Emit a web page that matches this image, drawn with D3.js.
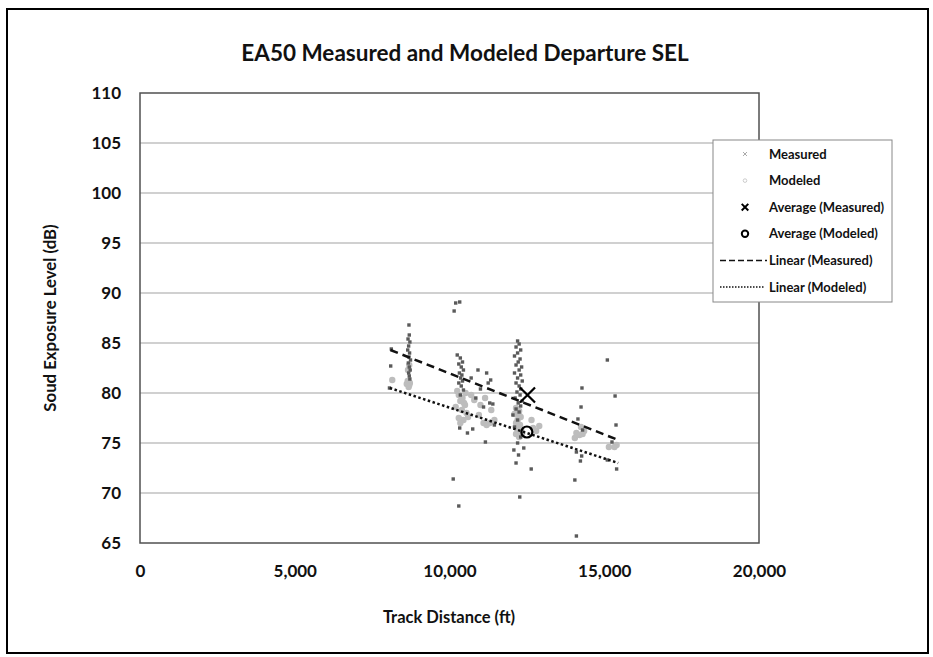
<!DOCTYPE html>
<html>
<head>
<meta charset="utf-8">
<script src="https://cdn.jsdelivr.net/npm/d3@7"></script>
<style>
  body { margin: 0; background: #fff; }
  text { font-family: Lato, "Open Sans", sans-serif; font-weight: bold; fill: #111; }
</style>
</head>
<body>
<script>
// EA50 departure SEL, measured vs modeled

var xTicks = [0, 5000, 10000, 15000, 20000];
var yTicks = [65, 70, 75, 80, 85, 90, 95, 100, 105, 110];

// [track distance ft, SEL dB]
var measured = [
  [8120, 84.4], [8100, 82.7], [8060, 80.5],
  [8690, 86.8], [8700, 85.8], [8660, 85.4], [8720, 85.1], [8680, 84.7], [8650, 84.3],
  [8710, 84.0], [8690, 83.6], [8740, 83.3], [8670, 83.0], [8700, 82.6], [8730, 82.3],
  [8680, 82.0], [8700, 81.7], [8720, 81.4],
  [10200, 89.0], [10330, 89.1], [10150, 88.2],
  [10250, 83.8], [10350, 83.5], [10420, 83.1], [10300, 82.9], [10380, 82.6], [10450, 82.3],
  [10320, 82.0], [10400, 81.8], [10360, 81.5], [10420, 81.2], [10300, 81.0], [10380, 80.7],
  [10450, 80.3], [10350, 79.8],
  [10330, 76.5], [10580, 76.0], [10120, 71.4], [10300, 68.7],
  [10700, 81.5], [10920, 82.3], [11200, 82.0], [11330, 81.3], [11250, 81.0], [11000, 80.4],
  [11300, 79.0], [11100, 78.6], [11400, 78.9], [10750, 76.4], [11160, 75.1], [11450, 76.8],
  [10850, 79.5],
  [12200, 85.2], [12250, 84.9], [12150, 84.6], [12300, 84.3], [12200, 84.0], [12100, 83.7],
  [12280, 83.4], [12220, 83.1], [12150, 82.8], [12330, 82.6], [12250, 82.3], [12100, 82.0],
  [12300, 81.8], [12200, 81.5], [12350, 81.2], [12150, 81.0], [12250, 80.7], [12300, 80.4],
  [12180, 80.1], [12280, 79.8], [12120, 79.5], [12350, 79.2], [12220, 79.0], [12300, 78.7],
  [12150, 78.4], [12250, 78.1], [12200, 77.3], [12100, 76.6], [12300, 75.6], [12200, 75.0],
  [12080, 74.3], [12230, 73.8], [12150, 73.0], [12640, 72.4], [12270, 69.6], [12400, 74.5],
  [12050, 77.8],
  [14280, 80.5], [14250, 78.6], [14150, 77.4], [14100, 74.1], [14270, 73.7], [14230, 73.2],
  [14050, 71.3], [14100, 65.7], [14300, 76.3],
  [15100, 83.3], [15350, 79.7], [15380, 76.8], [15100, 73.3], [15400, 72.4], [15250, 75.1]
];

var modeled = [
  [8150, 81.3], [8620, 80.9], [8680, 80.6], [8720, 81.0], [8650, 81.2], [8700, 80.8],
  [8660, 82.3], [8700, 82.8],
  [10250, 80.2], [10300, 79.8], [10420, 79.5], [10350, 79.2], [10470, 79.0], [10520, 80.0],
  [10200, 78.6], [10400, 78.3], [10550, 78.0], [10300, 77.5], [10450, 77.3], [10600, 77.6],
  [10350, 77.0], [10500, 78.8],
  [10800, 79.3], [11000, 78.8], [11100, 77.0], [11300, 77.0], [11450, 77.3], [11200, 76.8],
  [10950, 77.8], [11350, 78.3], [11150, 79.5], [10700, 79.8],
  [12150, 78.5], [12250, 78.2], [12100, 77.9], [12300, 77.6], [12200, 77.3], [12150, 77.0],
  [12280, 76.8], [12200, 76.5], [12320, 76.2], [12150, 75.9], [12250, 75.6], [12350, 76.0],
  [12200, 76.9], [12250, 77.8],
  [12650, 77.3], [12900, 76.7], [12800, 76.2], [12700, 76.5],
  [14050, 75.5], [14200, 75.8], [14350, 76.2], [14250, 76.6], [14100, 76.0], [14300, 75.9],
  [15150, 74.6], [15400, 74.8], [15330, 74.6]
];

var avgMeasured = [12520, 79.8];
var avgModeled = [12500, 76.1];

var trendMeasured = [[8090, 84.3], [15450, 75.3]];
var trendModeled = [[8070, 80.5], [15450, 73.0]];

var legendItems = ["Measured", "Modeled", "Average (Measured)", "Average (Modeled)",
                   "Linear (Measured)", "Linear (Modeled)"];

var W = 933, H = 657;
var plot = {left: 140, right: 759, top: 93, bottom: 543};

var svg = d3.select("body").append("svg")
    .attr("width", W)
    .attr("height", H);

// outer frame
svg.append("rect")
    .attr("x", 7).attr("y", 9)
    .attr("width", 921).attr("height", 644)
    .attr("fill", "none")
    .attr("stroke", "#000")
    .attr("stroke-width", 2);

var x = d3.scaleLinear().domain([0, 20000]).range([plot.left, plot.right]);
var y = d3.scaleLinear().domain([65, 110]).range([plot.bottom, plot.top]);

// gridlines
svg.append("g").selectAll("line")
    .data(yTicks.slice(1, -1))
    .enter().append("line")
    .attr("x1", plot.left).attr("x2", plot.right)
    .attr("y1", function(d) { return y(d); })
    .attr("y2", function(d) { return y(d); })
    .attr("stroke", "#d0d0d0")
    .attr("stroke-width", 2);

svg.append("rect")
    .attr("x", plot.left).attr("y", plot.top)
    .attr("width", plot.right - plot.left)
    .attr("height", plot.bottom - plot.top)
    .attr("fill", "none")
    .attr("stroke", "#505050")
    .attr("stroke-width", 1.5);

var xAxis = d3.axisBottom(x).tickValues(xTicks).tickFormat(d3.format(",")).tickSize(0).tickPadding(22);
var yAxis = d3.axisLeft(y).tickValues(yTicks).tickSize(0).tickPadding(19);

svg.append("g")
    .attr("transform", "translate(0," + plot.bottom + ")")
    .call(xAxis)
    .call(function(g) { g.select(".domain").remove(); })
    .selectAll("text").style("font-size", "17px").attr("fill", "#111");

svg.append("g")
    .attr("transform", "translate(" + plot.left + ",0)")
    .call(yAxis)
    .call(function(g) { g.select(".domain").remove(); })
    .selectAll("text").style("font-size", "17px").attr("fill", "#111");

// titles
svg.append("text")
    .attr("x", 465).attr("y", 61)
    .attr("text-anchor", "middle")
    .style("font-size", "22.5px")
    .text("EA50 Measured and Modeled Departure SEL");

svg.append("text")
    .attr("x", 449).attr("y", 623)
    .attr("text-anchor", "middle")
    .style("font-size", "16.5px")
    .text("Track Distance (ft)");

svg.append("text")
    .attr("transform", "translate(56," + ((plot.top + plot.bottom) / 2) + ") rotate(-90)")
    .attr("text-anchor", "middle")
    .style("font-size", "16.8px")
    .text("Soud Exposure Level (dB)");

// points
svg.append("g").selectAll("circle")
    .data(modeled)
    .enter().append("circle")
    .attr("cx", function(d) { return x(d[0]); })
    .attr("cy", function(d) { return y(d[1]); })
    .attr("r", 3.2)
    .attr("fill", "#bdbdbd");

svg.append("g").selectAll("rect")
    .data(measured)
    .enter().append("rect")
    .attr("x", function(d) { return x(d[0]) - 1.7; })
    .attr("y", function(d) { return y(d[1]) - 1.7; })
    .attr("width", 3.4).attr("height", 3.4)
    .attr("fill", "#5a5a5a");

// trend lines
var line = d3.line()
    .x(function(d) { return x(d[0]); })
    .y(function(d) { return y(d[1]); });

svg.append("path")
    .datum(trendMeasured)
    .attr("d", line)
    .attr("fill", "none")
    .attr("stroke", "#111")
    .attr("stroke-width", 2.5)
    .attr("stroke-dasharray", "8,5");

svg.append("path")
    .datum(trendModeled)
    .attr("d", line)
    .attr("fill", "none")
    .attr("stroke", "#111")
    .attr("stroke-width", 2.5)
    .attr("stroke-dasharray", "2.5,2.5");

// averages
var cross = d3.symbol().type(d3.symbolX).size(150);
svg.append("path")
    .attr("d", cross)
    .attr("transform", "translate(" + x(avgMeasured[0]) + "," + y(avgMeasured[1]) + ")")
    .attr("fill", "none")
    .attr("stroke", "#000")
    .attr("stroke-width", 2.2);

svg.append("circle")
    .attr("cx", x(avgModeled[0]))
    .attr("cy", y(avgModeled[1]))
    .attr("r", 5.5)
    .attr("fill", "none")
    .attr("stroke", "#000")
    .attr("stroke-width", 2.2);

// legend
var lg = svg.append("g");
lg.append("rect")
    .attr("x", 713).attr("y", 140)
    .attr("width", 179).attr("height", 162)
    .attr("fill", "#fff")
    .attr("stroke", "#888")
    .attr("stroke-width", 1);

var rowY = function(i) { return 154 + i * 26.6; };

lg.selectAll("text")
    .data(legendItems)
    .enter().append("text")
    .attr("x", 769)
    .attr("y", function(d, i) { return rowY(i); })
    .attr("dy", "0.35em")
    .style("font-size", "13px")
    .text(function(d) { return d; });

lg.append("path")
    .attr("d", d3.symbol().type(d3.symbolX).size(12))
    .attr("transform", "translate(745," + rowY(0) + ")")
    .attr("fill", "none").attr("stroke", "#aaa").attr("stroke-width", 1);
lg.append("circle")
    .attr("cx", 745).attr("cy", rowY(1)).attr("r", 1.8)
    .attr("fill", "none").attr("stroke", "#ccc").attr("stroke-width", 1);
lg.append("path")
    .attr("d", d3.symbol().type(d3.symbolX).size(30))
    .attr("transform", "translate(745," + rowY(2) + ")")
    .attr("fill", "none").attr("stroke", "#000").attr("stroke-width", 2);
lg.append("circle")
    .attr("cx", 745).attr("cy", rowY(3)).attr("r", 3.2)
    .attr("fill", "none").attr("stroke", "#000").attr("stroke-width", 2);
lg.append("line")
    .attr("x1", 720).attr("x2", 767).attr("y1", rowY(4)).attr("y2", rowY(4))
    .attr("stroke", "#111").attr("stroke-width", 1.5).attr("stroke-dasharray", "6,3");
lg.append("line")
    .attr("x1", 720).attr("x2", 764).attr("y1", rowY(5)).attr("y2", rowY(5))
    .attr("stroke", "#111").attr("stroke-width", 1.5).attr("stroke-dasharray", "1.5,1.5");
</script>
</body>
</html>
